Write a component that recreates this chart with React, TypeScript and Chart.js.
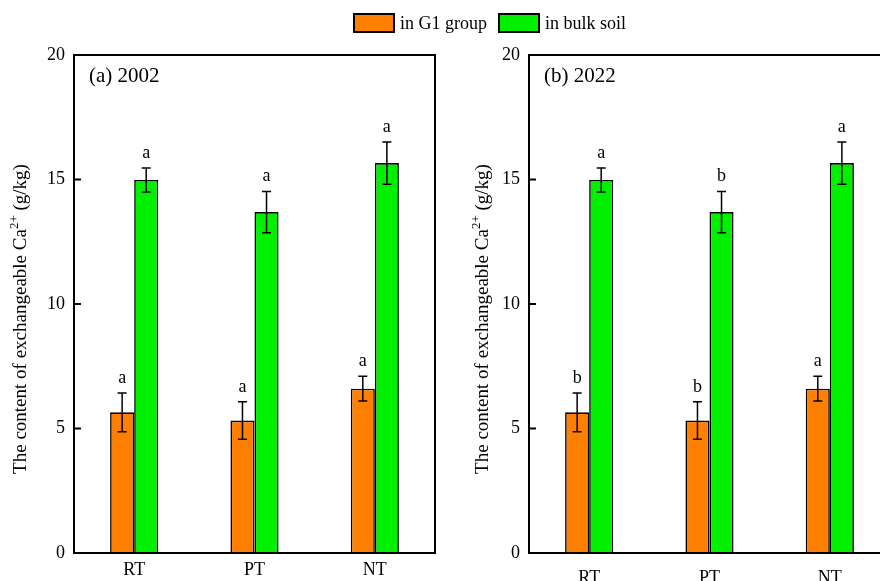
import React, { useEffect, useRef } from 'react';
import { Chart, registerables } from 'chart.js';

Chart.register(...registerables);

// ---- data ----
const categories = ['RT', 'PT', 'NT'];
const seriesNames = ['in G1 group', 'in bulk soil'];
const g1Values = [5.65, 5.32, 6.6];
const g1Errors = [0.78, 0.75, 0.5];
const bulkValues = [14.98, 13.69, 15.66];
const bulkErrors = [0.48, 0.83, 0.85];
const yTickValues = [0, 5, 10, 15, 20];
const letters2002G1 = ['a', 'a', 'a'];
const letters2002Bulk = ['a', 'a', 'a'];
const letters2022G1 = ['b', 'b', 'a'];
const letters2022Bulk = ['a', 'b', 'a'];
const panelTitles = ['(a) 2002', '(b) 2022'];
const yTitleMain = 'The content of exchangeable Ca';
const yTitleSup = '2+';
const yTitleTail = ' (g/kg)';

const FONT = '"Liberation Serif", "Times New Roman", serif';
const ORANGE = '#FF8000';
const GREEN = '#00F000';

type PanelProps = {
  title: string;
  lettersG1: string[];
  lettersBulk: string[];
  left: number;
  width: number;
  yWidth: number;
  padRight: number;
  yTitleX: number;
  xPad: number;
};

function Panel(props: PanelProps) {
  const ref = useRef<HTMLCanvasElement | null>(null);
  useEffect(() => {
    const canvas = ref.current;
    if (!canvas) return;
    const errors = [g1Errors, bulkErrors];
    const letters = [props.lettersG1, props.lettersBulk];

    const decorPlugin = {
      id: 'decor',
      afterDatasetsDraw(chart: any) {
        const ctx = chart.ctx;
        const ys = chart.scales.y;
        ctx.save();
        chart.data.datasets.forEach((ds: any, i: number) => {
          const meta = chart.getDatasetMeta(i);
          meta.data.forEach((el: any, j: number) => {
            const v = ds.data[j];
            const e = errors[i][j];
            const x = el.x;
            const yt = ys.getPixelForValue(v + e);
            const yb = ys.getPixelForValue(v - e);
            ctx.strokeStyle = '#000';
            ctx.lineWidth = 1.5;
            ctx.beginPath();
            ctx.moveTo(x, yt);
            ctx.lineTo(x, yb);
            ctx.moveTo(x - 4.5, yt);
            ctx.lineTo(x + 4.5, yt);
            ctx.moveTo(x - 4.5, yb);
            ctx.lineTo(x + 4.5, yb);
            ctx.stroke();
            ctx.fillStyle = '#000';
            ctx.font = `18px ${FONT}`;
            ctx.textAlign = 'center';
            ctx.textBaseline = 'middle';
            ctx.fillText(letters[i][j], x, yt - 15);
          });
        });
        ctx.restore();
      },
      afterDraw(chart: any) {
        const ctx = chart.ctx;
        const a = chart.chartArea;
        const ys = chart.scales.y;
        ctx.save();
        ctx.strokeStyle = '#000';
        ctx.lineWidth = 2;
        ctx.strokeRect(a.left, a.top, a.right - a.left, a.bottom - a.top);
        // inward ticks
        yTickValues.forEach((t) => {
          const y = ys.getPixelForValue(t);
          ctx.beginPath();
          ctx.moveTo(a.left, y);
          ctx.lineTo(a.left + 7, y);
          ctx.stroke();
        });
        // panel title
        ctx.fillStyle = '#000';
        ctx.font = `21px ${FONT}`;
        ctx.textAlign = 'left';
        ctx.textBaseline = 'middle';
        ctx.fillText(props.title, a.left + 15, a.top + 21);
        // y title with superscript
        ctx.translate(props.yTitleX, 319);
        ctx.rotate(-Math.PI / 2);
        ctx.font = `19px ${FONT}`;
        const w1 = ctx.measureText(yTitleMain).width;
        const w3 = ctx.measureText(yTitleTail).width;
        ctx.font = `13px ${FONT}`;
        const w2 = ctx.measureText(yTitleSup).width;
        const total = w1 + w2 + w3;
        let x0 = -total / 2;
        ctx.textBaseline = 'alphabetic';
        ctx.font = `19px ${FONT}`;
        ctx.fillText(yTitleMain, x0, 6);
        x0 += w1;
        ctx.font = `13px ${FONT}`;
        ctx.fillText(yTitleSup, x0, -2);
        x0 += w2;
        ctx.font = `19px ${FONT}`;
        ctx.fillText(yTitleTail, x0, 6);
        ctx.restore();
      },
    };

    const chart = new Chart(canvas, {
      type: 'bar',
      data: {
        labels: categories,
        datasets: [
          {
            label: seriesNames[0],
            data: g1Values,
            backgroundColor: ORANGE,
            borderColor: '#000',
            borderWidth: 1.6,
            categoryPercentage: 0.4,
            barPercentage: 1,
          },
          {
            label: seriesNames[1],
            data: bulkValues,
            backgroundColor: GREEN,
            borderColor: '#000',
            borderWidth: 1.6,
            categoryPercentage: 0.4,
            barPercentage: 1,
          },
        ],
      },
      options: {
        animation: false,
        responsive: false,
        maintainAspectRatio: false,
        layout: { padding: { top: 55, left: 0, right: props.padRight, bottom: 0 } },
        plugins: {
          legend: { display: false },
          tooltip: { enabled: false },
          title: { display: false },
        },
        scales: {
          x: {
            grid: { display: false, drawTicks: false },
            border: { display: false },
            ticks: { color: '#000', font: { family: FONT, size: 18 }, padding: props.xPad },
            afterFit: (s: any) => {
              s.height = 28;
            },
          },
          y: {
            min: 0,
            max: 20,
            afterBuildTicks: (s: any) => {
              s.ticks = yTickValues.map((v) => ({ value: v }));
            },
            grid: { display: false, drawTicks: false },
            border: { display: false },
            ticks: { color: '#000', font: { family: FONT, size: 18 }, padding: 9 },
            afterFit: (s: any) => {
              s.width = props.yWidth;
            },
          },
        },
      },
      plugins: [decorPlugin],
    });
    return () => chart.destroy();
  }, []);
  return (
    <canvas
      ref={ref}
      width={props.width}
      height={581}
      style={{ position: 'absolute', left: props.left, top: 0, width: props.width, height: 581 }}
    />
  );
}

export default function App() {
  const legendText: React.CSSProperties = {
    position: 'absolute',
    top: 12,
    fontFamily: FONT,
    fontSize: 18,
    lineHeight: '22px',
    color: '#000',
    whiteSpace: 'nowrap',
  };
  const box: React.CSSProperties = {
    position: 'absolute',
    top: 13,
    width: 42,
    height: 20,
    border: '2px solid #000',
    boxSizing: 'border-box',
  };
  return (
    <div
      style={{
        position: 'fixed',
        left: 0,
        top: 0,
        width: 880,
        height: 581,
        overflow: 'hidden',
        background: '#fff',
      }}
    >
      <Panel
        title={panelTitles[0]}
        lettersG1={letters2002G1}
        lettersBulk={letters2002Bulk}
        left={0}
        width={440}
        yWidth={74}
        padRight={5}
        yTitleX={20}
        xPad={6}
      />
      <Panel
        title={panelTitles[1]}
        lettersG1={letters2022G1}
        lettersBulk={letters2022Bulk}
        left={440}
        width={470}
        yWidth={89}
        padRight={20}
        yTitleX={42}
        xPad={14}
      />
      <div style={{ ...box, left: 353, background: ORANGE }} />
      <div style={{ ...legendText, left: 400 }}>{seriesNames[0]}</div>
      <div style={{ ...box, left: 498, background: GREEN }} />
      <div style={{ ...legendText, left: 545 }}>{seriesNames[1]}</div>
    </div>
  );
}
